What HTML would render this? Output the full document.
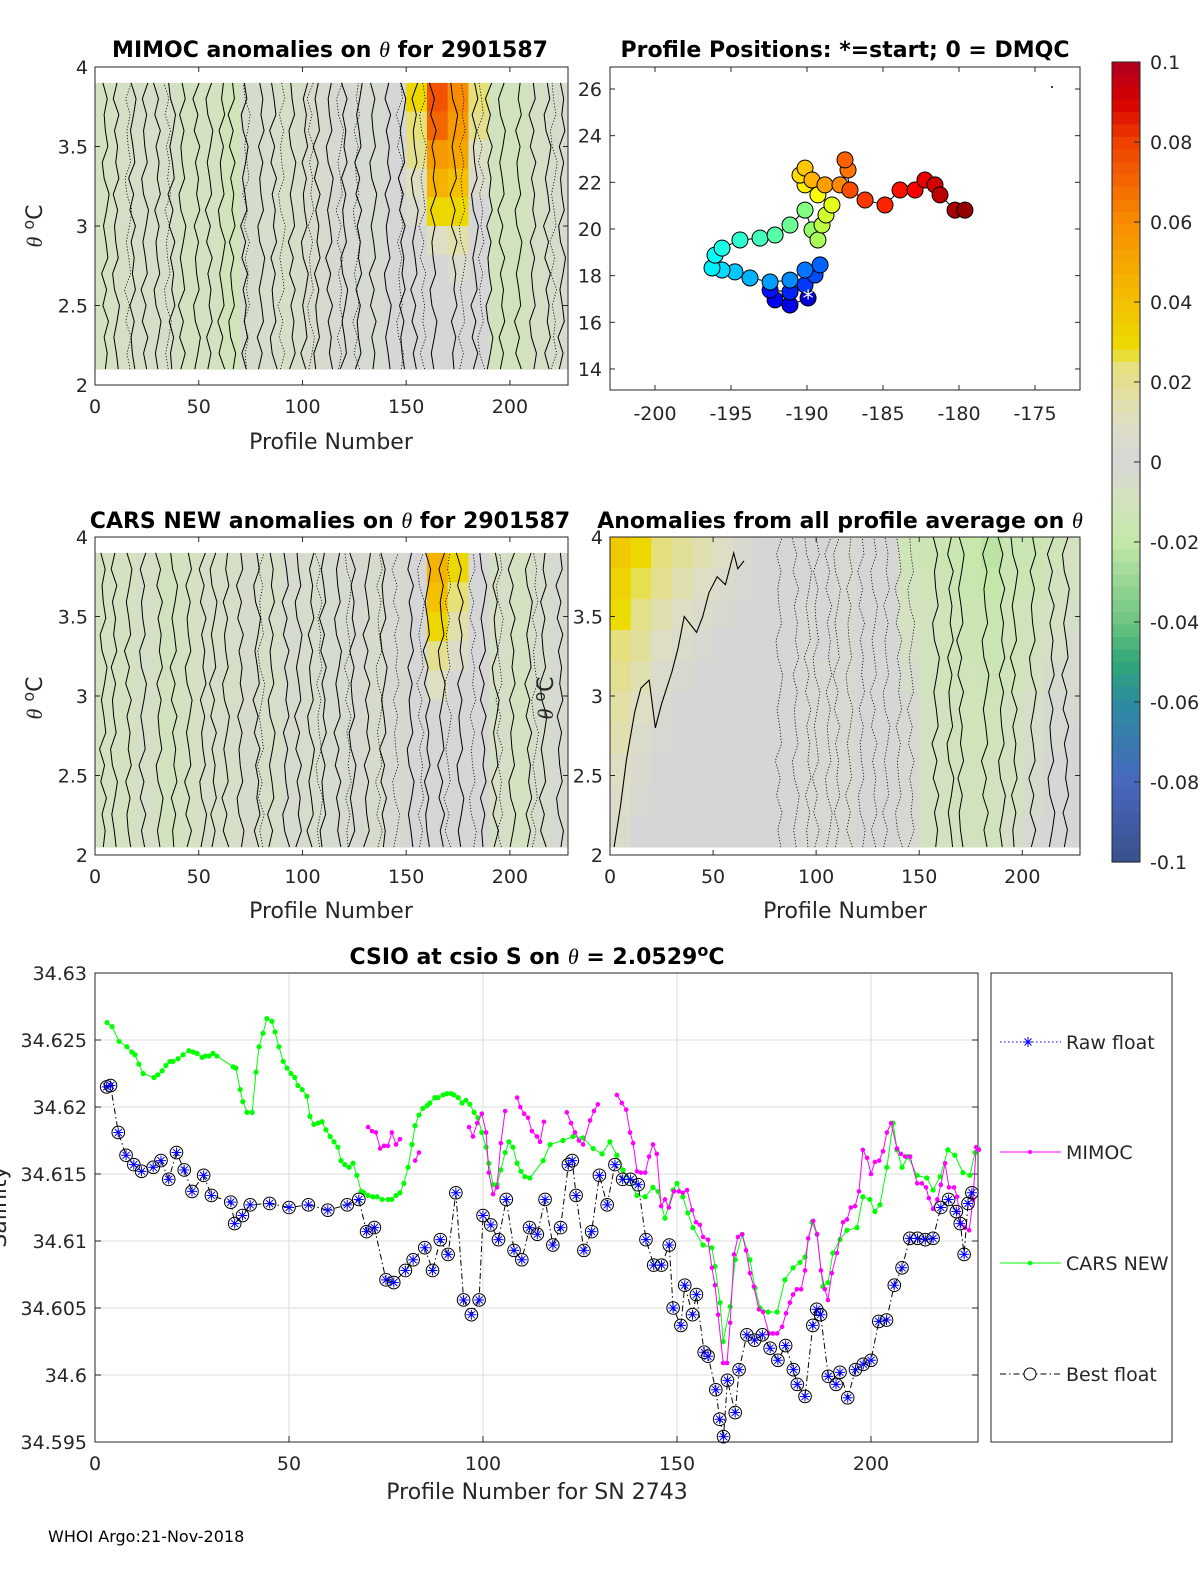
<!DOCTYPE html>
<html><head><meta charset="utf-8">
<style>
html,body{margin:0;padding:0;background:#fff;}
svg{display:block;font-family:"DejaVu Sans","Liberation Sans",sans-serif;}
.tk{font-size:19px;fill:#262626;}
.ttl{font-size:22px;font-weight:bold;fill:#000;}
.lab{font-size:22px;fill:#262626;}
</style></head>
<body>
<svg id="fig" width="1200" height="1575" viewBox="0 0 1200 1575" xmlns="http://www.w3.org/2000/svg">
<g id="layer-heat"></g>
<g id="layer-cont"></g>
<g id="layer-axes"></g>
<g id="layer-map"></g>
<g id="layer-bottom"></g>
<g id="layer-text">
<text class="ttl" x="330" y="57" text-anchor="middle">MIMOC anomalies on <tspan font-style="italic" font-family="Liberation Serif" font-weight="normal">θ</tspan>  for 2901587</text>
<text class="ttl" x="845" y="57" text-anchor="middle">Profile Positions: *=start; 0 = DMQC</text>
<text class="ttl" x="330" y="528" text-anchor="middle">CARS NEW anomalies on <tspan font-style="italic" font-family="Liberation Serif" font-weight="normal">θ</tspan> for 2901587</text>
<text class="ttl" x="840" y="528" text-anchor="middle">Anomalies from all profile average on <tspan font-style="italic" font-family="Liberation Serif" font-weight="normal">θ</tspan></text>
<text class="ttl" x="537" y="964" text-anchor="middle">CSIO at csio S on <tspan font-style="italic" font-family="Liberation Serif" font-weight="normal">θ</tspan> = 2.0529<tspan dy="-8" font-size="16">o</tspan><tspan dy="8">C</tspan></text>
<text class="lab" x="331" y="449" text-anchor="middle">Profile Number</text>
<text class="lab" x="331" y="918" text-anchor="middle">Profile Number</text>
<text class="lab" x="845" y="918" text-anchor="middle">Profile Number</text>
<text class="lab" x="537" y="1499" text-anchor="middle">Profile Number for SN 2743</text>
<text class="lab" transform="translate(42,226) rotate(-90)" text-anchor="middle"><tspan font-style="italic" font-family="Liberation Serif">θ</tspan> <tspan dy="-8" font-size="16">o</tspan><tspan dy="8">C</tspan></text>
<text class="lab" transform="translate(42,698) rotate(-90)" text-anchor="middle"><tspan font-style="italic" font-family="Liberation Serif">θ</tspan> <tspan dy="-8" font-size="16">o</tspan><tspan dy="8">C</tspan></text>
<text class="lab" transform="translate(553,698) rotate(-90)" text-anchor="middle"><tspan font-style="italic" font-family="Liberation Serif">θ</tspan> <tspan dy="-8" font-size="16">o</tspan><tspan dy="8">C</tspan></text>
<text class="lab" transform="translate(6,1207) rotate(-90)" text-anchor="middle">Salinity</text>
<text x="48" y="1542" font-size="16" fill="#000">WHOI Argo:21-Nov-2018</text>
</g>
</svg>
<script>
// ---------- DATA ----------
const mimocBase = [-8,-6,-6,-6,-10,-8,-12,-4,-5,-6,-4,-2,-2,-3,0,0,0,0,0,-10,-10,-6,-4];
const mimocWarm = [[30,75,60,25],[25,70,55,20],[20,55,50,10],[10,45,40,5],[5,30,30,0],[0,10,15,0],[0,0,5,0],[0,0,0,0],[0,0,0,0],[0,0,0,0]];
const carsBase = [-8,-8,-6,-10,-8,-6,-6,-4,-6,-3,-5,-3,-2,-4,-2,0,0,0,-3,-6,-8,-4,-2];
const carsWarm = [[0,45,30,0],[0,40,25,0],[0,30,15,0],[0,20,8,0],[0,10,0,0],[0,0,0,0],[0,0,0,0],[0,0,0,0],[0,0,0,0],[0,0,0,0]];
const avgGrid = [
 [36,30,24,18,14,10,4,0,0,0,0,-2,0,0,-12,-14,-16,-18,-22,-16,-16,-12,-8],
 [32,26,20,14,10,6,2,0,0,0,0,-2,0,0,-10,-12,-14,-16,-20,-14,-14,-10,-8],
 [28,22,14,10,6,3,0,0,0,-2,0,-2,0,0,-8,-10,-12,-14,-16,-12,-10,-8,-6],
 [24,18,10,6,3,0,0,0,0,-2,0,-2,0,0,-6,-10,-12,-14,-14,-12,-10,-6,-4],
 [20,14,6,3,0,0,0,0,0,-2,-2,-2,0,0,-4,-10,-12,-12,-14,-12,-8,-4,-3],
 [16,10,4,0,0,0,0,0,0,-2,-2,-2,0,0,-2,-8,-10,-12,-12,-10,-6,-2,-2],
 [14,6,2,0,0,0,0,0,0,-2,-2,-2,0,0,-2,-8,-10,-12,-12,-10,-6,-2,0],
 [10,4,0,0,0,0,0,0,0,-2,-2,-2,0,0,-2,-8,-10,-10,-10,-8,-4,0,0],
 [8,2,0,0,0,0,0,0,0,-2,-2,-2,0,0,-2,-8,-10,-10,-10,-8,-4,0,0],
 [6,0,0,0,0,0,0,0,0,-2,-2,-2,0,0,-2,-8,-8,-10,-10,-6,-2,0,0]];
const mimocSolid = [5,10,18,24,30,37,42,49,55,61,66,72,80,86,95,101,107,113,120,127,134,141,148,154,163,173,183,190,196,204,211,218,225];
const mimocDotted = [16,35,73,90,104,118,126,147,158,177,186,221];
const carsSolid = [4,9,16,23,31,38,45,52,57,63,70,78,85,92,98,104,110,117,124,131,139,152,160,167,176,187,193,201,209,216,224];
const carsDotted = [80,108,122,137,145,157,170,182,195,212];
const avgSolid = [158,165,170,182,190,196,205,214,221];
const avgDotted = [82,90,96,100,106,110,116,122,128,134,140,146];
const avgEdgeProf = [2,5,8,12,15,19,22,25,30,33,36,42,45,48,52,56,60,62,65];
const avgEdgeTheta = [2.05,2.3,2.6,2.9,3.05,3.1,2.8,2.95,3.15,3.3,3.5,3.4,3.5,3.65,3.75,3.7,3.9,3.8,3.85];

const mapLon = [-189.93,-191.12,-192.10,-192.43,-191.12,-190.13,-189.47,-189.14,-190.13,-191.12,-192.43,-193.75,-194.74,-195.59,-196.25,-196.05,-195.59,-194.41,-193.09,-192.10,-191.12,-190.13,-189.67,-189.28,-189.01,-188.75,-188.36,-189.28,-190.13,-190.46,-190.13,-189.67,-188.82,-187.83,-187.30,-187.50,-187.17,-186.18,-184.87,-183.88,-182.89,-182.24,-181.58,-181.25,-180.26,-179.61];
const mapLat = [17.04,16.74,16.96,17.38,17.30,17.60,18.03,18.46,18.24,17.81,17.73,17.90,18.16,18.24,18.33,18.88,19.18,19.53,19.61,19.74,20.17,20.81,19.96,19.53,20.17,20.60,21.03,21.46,21.89,22.31,22.61,22.10,21.89,21.89,22.53,22.96,21.67,21.24,21.03,21.67,21.67,22.10,21.89,21.46,20.81,20.81];

const carsProf = [3.1,4.4,6.2,8.2,9.5,10.3,11.3,12.4,15.2,16.2,17.3,18.3,19.3,20.1,21.4,22.7,24.2,25.3,26.3,27.6,28.4,29.4,30.4,31.4,35.6,36.3,37.4,38.1,39.2,40.5,41.5,42.3,43.3,44.3,45.6,46.4,47.4,48.5,49.5,50.5,51.5,52.3,53.4,54.6,55.4,56.4,57.5,58.5,59.5,60.6,61.6,62.6,63.4,64.4,65.5,66.5,67.5,68.6,69.3,70.4,71.6,72.7,74.0,75.5,76.5,77.6,78.6,79.6,80.7,81.7,82.5,83.5,84.5,85.6,86.3,87.6,88.4,89.7,90.7,91.8,92.5,93.6,94.6,95.6,96.6,97.7,98.7,99.7,100.8,101.5,102.6,103.6,104.6,105.7,106.7,107.7,108.8,109.8,110.8,112.1,115.5,117.3,120.6,123.2,125.8,128.4,130.7,132.7,134.5,136.1,139.7,141.8,143.8,145.1,146.9,149.0,150.0,151.5,152.8,154.1,156.7,159.0,159.8,161.1,161.9,163.7,165.0,166.8,168.8,170.1,171.4,173.5,175.8,177.8,179.9,181.7,183.0,184.8,186.1,187.6,188.9,190.2,192.0,193.8,196.4,197.9,199.7,201.0,202.3,204.1,205.7,206.7,208.0,209.5,211.9,214.4,216.0,217.8,219.8,221.6,223.7,225.5,226.8,227.6];
const carsSal = [34.6263,34.6260,34.6249,34.6245,34.6241,34.6239,34.6232,34.6225,34.6222,34.6224,34.6227,34.6231,34.6234,34.6234,34.6236,34.6239,34.6242,34.6241,34.6240,34.6237,34.6238,34.6238,34.6240,34.6238,34.6230,34.6229,34.6213,34.6204,34.6196,34.6196,34.6226,34.6245,34.6255,34.6266,34.6264,34.6256,34.6245,34.6234,34.6229,34.6225,34.6222,34.6216,34.6213,34.6208,34.6193,34.6187,34.6188,34.6189,34.6183,34.6178,34.6174,34.6170,34.6160,34.6157,34.6155,34.6158,34.6149,34.6137,34.6136,34.6134,34.6133,34.6133,34.6131,34.6131,34.6131,34.6134,34.6136,34.6143,34.6155,34.6172,34.6186,34.6194,34.6199,34.6201,34.6203,34.6207,34.6207,34.6209,34.6210,34.6210,34.6209,34.6207,34.6203,34.6205,34.6202,34.6196,34.6192,34.6181,34.6170,34.6158,34.6142,34.6142,34.6153,34.6166,34.6174,34.6170,34.6158,34.6152,34.6148,34.6147,34.6160,34.6172,34.6175,34.6178,34.6177,34.6169,34.6165,34.6174,34.6164,34.6153,34.6134,34.6133,34.6140,34.6137,34.6117,34.6138,34.6143,34.6133,34.6121,34.6110,34.6097,34.6095,34.6081,34.6054,34.6025,34.6051,34.6086,34.6105,34.6086,34.6065,34.6050,34.6047,34.6047,34.6071,34.6080,34.6084,34.6088,34.6114,34.6105,34.6066,34.6069,34.6091,34.6101,34.6108,34.6110,34.6133,34.6131,34.6122,34.6127,34.6155,34.6188,34.6168,34.6155,34.6163,34.6149,34.6147,34.6138,34.6148,34.6168,34.6164,34.6151,34.6149,34.6166,34.6169];
const mimocProf = [70.4,71.4,72.4,73.5,74.5,75.5,76.5,77.6,78.6,null,82.5,83.5,null,96.4,97.4,98.5,99.7,100.8,101.5,102.6,103.6,104.6,105.7,null,108.8,109.6,110.6,111.6,112.6,113.9,114.7,115.7,null,121.6,122.7,123.7,124.7,125.8,127.6,128.6,129.6,null,134.5,135.8,136.9,137.9,138.7,139.7,140.7,141.8,142.8,143.8,144.8,145.9,146.9,147.9,149.2,150.5,151.5,152.6,153.9,154.9,155.9,156.7,158.0,159.0,159.8,160.6,161.9,162.9,163.7,164.7,165.7,166.8,167.8,168.8,169.8,171.1,172.2,173.7,174.7,175.8,177.1,178.1,179.1,179.9,180.9,182.0,183.0,183.8,185.1,186.1,187.1,188.1,188.9,189.9,191.2,192.8,193.8,194.8,195.9,196.9,197.9,199.0,200.0,201.0,202.1,203.1,204.1,205.2,206.7,207.7,208.8,210.1,211.9,213.1,214.2,214.9,216.0,217.1,218.0,219.1,220.1,221.4,222.2,223.2,224.2,225.3,226.3,227.1,227.8];
const mimocSal = [34.6185,34.6182,34.6181,34.6169,34.6171,34.6171,34.6181,34.6172,34.6176,null,34.6160,34.6166,null,34.6185,34.6178,34.6188,34.6195,34.6181,34.6151,34.6135,34.6140,34.6173,34.6197,null,34.6207,34.6200,34.6195,34.6192,34.6182,34.6178,34.6174,34.6189,null,34.6196,34.6188,34.6181,34.6175,34.6172,34.6190,34.6197,34.6202,null,34.6209,34.6203,34.6198,34.6181,34.6173,34.6152,34.6151,34.6151,34.6163,34.6172,34.6165,34.6126,34.6131,34.6125,34.6137,34.6137,34.6136,34.6138,34.6123,34.6114,34.6112,34.6103,34.6101,34.6080,34.6067,34.6045,34.6009,34.6009,34.6039,34.6090,34.6103,34.6105,34.6093,34.6076,34.6066,34.6049,34.6047,34.6031,34.6031,34.6031,34.6036,34.6046,34.6054,34.6060,34.6064,34.6064,34.6078,34.6102,34.6115,34.6105,34.6078,34.6064,34.6056,34.6076,34.6091,34.6114,34.6116,34.6125,34.6126,34.6137,34.6168,34.6162,34.6150,34.6159,34.6160,34.6167,34.6181,34.6188,34.6169,34.6165,34.6163,34.6163,34.6143,34.6143,34.6140,34.6132,34.6124,34.6131,34.6142,34.6158,34.6140,34.6140,34.6133,34.6113,34.6110,34.6108,34.6131,34.6170,34.6168];
const bestProf = [3,4,6,8,10,12,15,17,19,21,23,25,28,30,35,36,38,40,45,50,55,60,65,68,70,72,75,77,80,82,85,87,89,91,93,95,97,99,100,102,104,106,108,110,112,114,116,118,120,122,123,124,126,128,130,132,134,136,138,140,142,144,146,148,149,151,152,154,155,157,158,160,161,162,163,165,166,168,170,172,174,176,178,180,181,183,185,186,187,189,191,192,194,196,198,200,202,204,206,208,210,212,214,216,218,220,222,223,224,225,226];
const bestSal = [34.6215,34.6216,34.6181,34.6164,34.6157,34.6152,34.6155,34.6160,34.6146,34.6166,34.6153,34.6137,34.6149,34.6134,34.6129,34.6113,34.6119,34.6127,34.6128,34.6125,34.6127,34.6123,34.6127,34.6131,34.6107,34.6110,34.6071,34.6069,34.6078,34.6086,34.6095,34.6078,34.6101,34.6090,34.6136,34.6056,34.6045,34.6056,34.6119,34.6112,34.6101,34.6131,34.6093,34.6086,34.6110,34.6105,34.6131,34.6097,34.6110,34.6157,34.6160,34.6134,34.6093,34.6107,34.6149,34.6127,34.6157,34.6146,34.6146,34.6142,34.6101,34.6082,34.6082,34.6097,34.6050,34.6037,34.6067,34.6045,34.6060,34.6017,34.6014,34.5989,34.5967,34.5954,34.5996,34.5972,34.6004,34.6030,34.6026,34.6030,34.6020,34.6011,34.6022,34.6004,34.5993,34.5984,34.6037,34.6049,34.6045,34.5999,34.5993,34.6002,34.5983,34.6004,34.6008,34.6011,34.6040,34.6041,34.6067,34.6080,34.6102,34.6102,34.6101,34.6102,34.6125,34.6131,34.6122,34.6113,34.6090,34.6128,34.6136];

const yTicksTheta = ["2","2.5","3","3.5","4"];
const xTicksProf = [0,50,100,150,200];
const mapXTicks = [-200,-195,-190,-185,-180,-175];
const mapYTicks = [14,16,18,20,22,24,26];
const cbTicks = ["-0.1","-0.08","-0.06","-0.04","-0.02","0","0.02","0.04","0.06","0.08","0.1"];
const salTicks = ["34.595","34.6","34.605","34.61","34.615","34.62","34.625","34.63"];

// ---------- HELPERS ----------
const NS = "http://www.w3.org/2000/svg";
function mk(tag, attrs, parent){const e=document.createElementNS(NS,tag);for(const k in attrs)e.setAttribute(k,attrs[k]);parent.appendChild(e);return e;}
const stops=[[-0.1,[58,80,140]],[-0.08,[72,104,190]],[-0.06,[44,140,160]],[-0.05,[48,168,120]],[-0.04,[110,196,128]],[-0.02,[196,232,168]],[-0.008,[212,226,194]],[0,[214,214,214]],[0.01,[222,222,196]],[0.025,[230,224,120]],[0.028,[236,220,0]],[0.04,[244,192,0]],[0.06,[248,140,0]],[0.08,[240,64,0]],[0.09,[216,0,0]],[0.1,[176,0,32]]];
function cmap(v){v=Math.max(-0.1,Math.min(0.1,v));for(let i=1;i<stops.length;i++){if(v<=stops[i][0]){const a=stops[i-1],b=stops[i];const t=(v-a[0])/(b[0]-a[0]);const c=a[1].map((x,j)=>Math.round(x+(b[1][j]-x)*t));return `rgb(${c[0]},${c[1]},${c[2]})`;}}return "rgb(176,0,32)";}
function jet(t){const f=x=>Math.max(0,Math.min(1,x));return `rgb(${Math.round(255*f(1.5-Math.abs(4*t-3)))},${Math.round(255*f(1.5-Math.abs(4*t-2)))},${Math.round(255*f(1.5-Math.abs(4*t-1)))})`;}
const wig=[0,1.5,-1,2.5,-2,1,-3,2,0.5,-1.5,1,3,-1,-2.5,2,0,-1,1.5,-2,2.5];

const L = {heat:document.getElementById('layer-heat'),cont:document.getElementById('layer-cont'),axes:document.getElementById('layer-axes'),map:document.getElementById('layer-map'),bot:document.getElementById('layer-bottom')};

function panel(name,x0,x1,yT,yB,pMax,thTop,thBot,gridFn,solid,dotted,extra){
  const sx=p=>x0+(p/pMax)*(x1-x0);
  const sy=t=>yB-(t-2)/2*(yB-yT);
  const g=mk('g',{},L.heat);
  
  
  const nr=10, dth=(thTop-thBot)/nr;
  for(let r=0;r<nr;r++){for(let c=0;c<23;c++){
    const v=gridFn(r,c)/1000;
    const pa=c*10,pb=Math.min(pMax,(c+1)*10);
    const cell=mk('rect',{x:sx(pa),y:sy(thTop-r*dth),width:sx(pb)-sx(pa)+0.5,height:sy(thTop-(r+1)*dth)-sy(thTop-r*dth)+0.5,fill:cmap(v)},g);
    
    
  }}
  const cg=mk('g',{},L.cont);
  
  
  function vline(p,k,dash){let pts=[];for(let i=0;i<=18;i++){const th=thBot+(thTop-thBot)*i/18;pts.push(sx(p+wig[(i+k*7)%wig.length]*0.6)+','+sy(th));}
    const pl=mk('polyline',{points:pts.join(' '),fill:'none',stroke:'#000','stroke-width':dash?0.8:1,'stroke-dasharray':dash?'1.2,1.8':'none','stroke-linejoin':'round'},cg);
    
    }
  solid.forEach((p,k)=>vline(p,k,false));
  dotted.forEach((p,k)=>vline(p,k+3,true));
  if(extra){const pts=extra[0].map((p,i)=>sx(p)+','+sy(extra[1][i]));const pl=mk('polyline',{points:pts.join(' '),fill:'none',stroke:'#000','stroke-width':1.1},cg);
    
    }
  const ag=mk('g',{},L.axes);
  
  
  mk('rect',{x:x0,y:yT,width:x1-x0,height:yB-yT,fill:'none',stroke:'#262626','stroke-width':1},ag);
  yTicksTheta.forEach((t,i)=>{const y=sy(2+i*0.5);mk('line',{x1:x0,x2:x0+5,y1:y,y2:y,stroke:'#262626'},ag);mk('line',{x1:x1,x2:x1-5,y1:y,y2:y,stroke:'#262626'},ag);
    const tx=mk('text',{x:x0-7,y:y+7,'text-anchor':'end',class:'tk'},ag);tx.textContent=t;
    
    });
  xTicksProf.forEach(p=>{const x=sx(p);mk('line',{x1:x,x2:x,y1:yB,y2:yB-5,stroke:'#262626'},ag);mk('line',{x1:x,x2:x,y1:yT,y2:yT+5,stroke:'#262626'},ag);
    const tx=mk('text',{x:x,y:yB+28,'text-anchor':'middle',class:'tk'},ag);tx.textContent=p;
    
    });
}
panel('mimoc-panel',95,568,67,385,228,3.9,2.1,(r,c)=>{let v=mimocBase[c];if(c>=15&&c<=18)v=Math.max(v,mimocWarm[r][c-15]);return v;},mimocSolid,mimocDotted,null);
panel('cars-panel',95,568,537,855,228,3.9,2.05,(r,c)=>{let v=carsBase[c];if(c>=15&&c<=18)v=Math.max(v,carsWarm[r][c-15]);return v;},carsSolid,carsDotted,null);
panel('average-panel',610,1080,537,855,228,4.0,2.05,(r,c)=>avgGrid[r][c],avgSolid,avgDotted,[avgEdgeProf,avgEdgeTheta]);

// ---------- MAP ----------
(function(){
  const x0=610,x1=1080,yT=67,yB=390;
  const sx=l=>655+(l+200)*15.2, sy=a=>89+(26-a)*23.33;
  const ag=mk('g',{},L.axes);
  
  
  mk('rect',{x:x0,y:yT,width:x1-x0,height:yB-yT,fill:'none',stroke:'#262626'},ag);
  mapXTicks.forEach(l=>{const x=sx(l);mk('line',{x1:x,x2:x,y1:yB,y2:yB-5,stroke:'#262626'},ag);mk('line',{x1:x,x2:x,y1:yT,y2:yT+5,stroke:'#262626'},ag);
    const t=mk('text',{x:x,y:yB+30,'text-anchor':'middle',class:'tk'},ag);t.textContent=l;
    
    });
  mapYTicks.forEach(a=>{const y=sy(a);mk('line',{x1:x0,x2:x0+5,y1:y,y2:y,stroke:'#262626'},ag);mk('line',{x1:x1,x2:x1-5,y1:y,y2:y,stroke:'#262626'},ag);
    const t=mk('text',{x:x0-8,y:y+7,'text-anchor':'end',class:'tk'},ag);t.textContent=a;
    
    });
  const g=L.map;
  mk('polyline',{points:mapLon.map((l,i)=>sx(l)+','+sy(mapLat[i])).join(' '),fill:'none',stroke:'#000','stroke-width':1},g);
  const n=mapLon.length;
  mapLon.forEach((l,i)=>{const c=mk('circle',{cx:sx(l),cy:sy(mapLat[i]),r:8,fill:jet(0.08+0.9*i/(n-1)),stroke:'#000','stroke-width':1},g);
    
    });
  const st=mk('text',{x:sx(mapLon[0]),y:sy(mapLat[0])+8,'text-anchor':'middle','font-size':'22',fill:'#fff'},g);st.textContent='*';
  
  
  mk('circle',{cx:1052,cy:87,r:1,fill:'#000'},g);
})();

// ---------- COLORBAR ----------
(function(){
  const g=mk('g',{},L.axes);
  
  
  const x=1112,w=28,yT=62,yB=862;
  for(let i=0;i<64;i++){const v=0.1-0.2*(i+0.5)/64;mk('rect',{x:x,y:yT+i*(yB-yT)/64,width:w,height:(yB-yT)/64+0.6,fill:cmap(v)},g);}
  mk('rect',{x:x,y:yT,width:w,height:yB-yT,fill:'none',stroke:'#262626'},g);
  cbTicks.forEach((t,i)=>{const y=yB-i*(yB-yT)/10;mk('line',{x1:x+w,x2:x+w-6,y1:y,y2:y,stroke:'#262626'},g);
    const tx=mk('text',{x:x+38,y:y+7,class:'tk','font-size':'18'},g);tx.textContent=t;
    
    });
})();

// ---------- BOTTOM CHART ----------
(function(){
  const x0=95,x1=978,yT=973,yB=1442;
  const sx=p=>x0+p*3.88;
  const sy=v=>yB-(v-34.595)/0.035*(yB-yT);
  const g=L.bot;
  const ag=mk('g',{},g);
  
  
  mk('rect',{x:x0,y:yT,width:x1-x0,height:yB-yT,fill:'#fff',stroke:'none'},ag);
  salTicks.forEach((t,i)=>{const y=sy(34.595+i*0.005);mk('line',{x1:x0,x2:x1,y1:y,y2:y,stroke:'#dedede'},ag);
    mk('line',{x1:x0,x2:x0+6,y1:y,y2:y,stroke:'#262626'},ag);mk('line',{x1:x1,x2:x1-6,y1:y,y2:y,stroke:'#262626'},ag);
    const tx=mk('text',{x:x0-8,y:y+7,'text-anchor':'end',class:'tk'},ag);tx.textContent=t;
    
    });
  xTicksProf.forEach(p=>{const x=sx(p);mk('line',{x1:x,x2:x,y1:yT,y2:yB,stroke:'#dedede'},ag);
    mk('line',{x1:x,x2:x,y1:yB,y2:yB-6,stroke:'#262626'},ag);
    const tx=mk('text',{x:x,y:yB+28,'text-anchor':'middle',class:'tk'},ag);tx.textContent=p;
    
    });
  mk('rect',{x:x0,y:yT,width:x1-x0,height:yB-yT,fill:'none',stroke:'#262626'},ag);

  function series(P,S,color,r,name){
    const sg=mk('g',{},g);
    
    
    let seg=[];const segs=[];
    P.forEach((p,i)=>{if(p===null){segs.push(seg);seg=[];}else seg.push(sx(p)+','+sy(S[i]));});segs.push(seg);
    segs.forEach(s=>{if(s.length>1)mk('polyline',{points:s.join(' '),fill:'none',stroke:color,'stroke-width':1},sg);});
    P.forEach((p,i)=>{if(p===null)return;const c=mk('circle',{cx:sx(p),cy:sy(S[i]),r:r,fill:color},sg);
      
      });
  }
  series(carsProf,carsSal,'#00ff00',2.6,'cars-new-series');
  series(mimocProf,mimocSal,'#ff00ff',2.3,'mimoc-series');
  const bg=mk('g',{},g);
  
  
  mk('polyline',{points:bestProf.map((p,i)=>sx(p)+','+sy(bestSal[i])).join(' '),fill:'none',stroke:'#000','stroke-width':1,'stroke-dasharray':'6,3,1.5,3'},bg);
  bestProf.forEach((p,i)=>{const cx=sx(p),cy=sy(bestSal[i]);
    const m=mk('g',{},bg);
    
    
    mk('circle',{cx:cx,cy:cy,r:6.3,fill:'none',stroke:'#000','stroke-width':1},m);
    mk('path',{d:`M${cx-5},${cy}H${cx+5}M${cx},${cy-5}V${cy+5}M${cx-3.5},${cy-3.5}L${cx+3.5},${cy+3.5}M${cx-3.5},${cy+3.5}L${cx+3.5},${cy-3.5}`,stroke:'#0000ff','stroke-width':1},m);});

  const lg=mk('g',{},g);
  
  
  mk('rect',{x:991,y:973,width:181,height:469,fill:'#fff',stroke:'#262626'},lg);
  const ent=[['Raw float',1042],['MIMOC',1152],['CARS NEW',1263],['Best float',1374]];
  ent.forEach(([t,y],k)=>{
    const eg=mk('g',{},lg);
    
    
    if(k===0){mk('line',{x1:1000,x2:1061,y1:y,y2:y,stroke:'#0000ff','stroke-dasharray':'1.5,2.5'},eg);mk('path',{d:`M1023,${y}h10M1028,${y-5}v10M1024.5,${y-3.5}l7,7M1024.5,${y+3.5}l7,-7`,stroke:'#0000ff'},eg);}
    if(k===1){mk('line',{x1:1000,x2:1061,y1:y,y2:y,stroke:'#ff00ff'},eg);mk('circle',{cx:1030,cy:y,r:2,fill:'#ff00ff'},eg);}
    if(k===2){mk('line',{x1:1000,x2:1061,y1:y,y2:y,stroke:'#00ff00'},eg);mk('circle',{cx:1030,cy:y,r:2.3,fill:'#00ff00'},eg);}
    if(k===3){mk('line',{x1:1000,x2:1061,y1:y,y2:y,stroke:'#000','stroke-dasharray':'6,3,1.5,3'},eg);mk('circle',{cx:1030,cy:y,r:6,fill:'#fff',stroke:'#000'},eg);}
    const tx=mk('text',{x:1066,y:y+7,class:'tk','fill':'#000'},eg);tx.textContent=t;
    
    });
})();
</script>
</body></html>
